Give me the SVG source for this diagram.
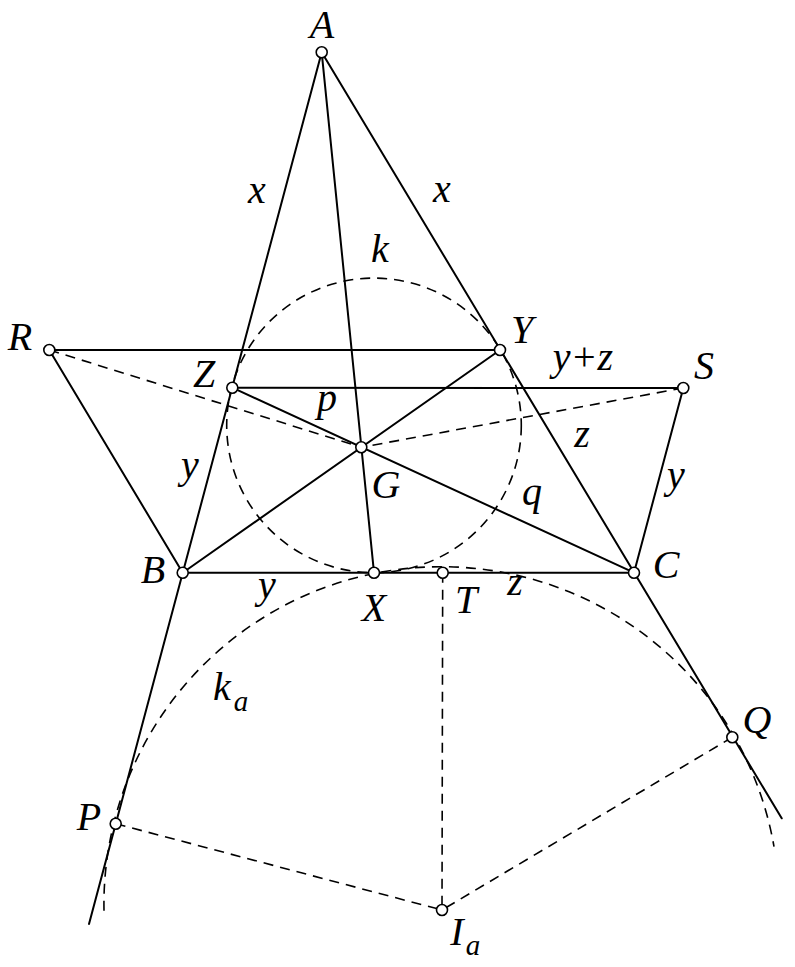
<svg xmlns="http://www.w3.org/2000/svg" width="795" height="967" viewBox="0 0 795 967">
<style>
.s{stroke:#000;stroke-width:2;fill:none;stroke-linecap:round}
.d{stroke:#000;stroke-width:1.6;fill:none;stroke-dasharray:10 7}
.pt{fill:#fff;stroke:#000;stroke-width:1.6}
</style>
<rect width="795" height="967" fill="#fff"/>
<g id="connectors">
<circle id="k" class="d" cx="374" cy="425.4" r="147.3"/>
<path id="ka" class="d" d="M104,910.7 A337.5,337.5 0 0 1 774,846.7"/>
<line class="d" x1="49.3" y1="350" x2="361.3" y2="447.3"/>
<line class="d" x1="683.3" y1="388" x2="361.3" y2="447.3"/>
<line class="d" x1="442.7" y1="572.7" x2="442" y2="910"/>
<line class="d" x1="115.7" y1="823.7" x2="442" y2="910"/>
<line class="d" x1="732.3" y1="737.3" x2="442" y2="910"/>
<line class="s" x1="321.7" y1="52.3" x2="89" y2="924"/>
<line class="s" x1="321.7" y1="52.3" x2="781.7" y2="818.3"/>
<line class="s" x1="321.7" y1="52.3" x2="374" y2="572.7"/>
<line class="s" x1="182.7" y1="572.7" x2="634" y2="572.7"/>
<line class="s" x1="49.3" y1="350" x2="500" y2="350"/>
<line class="s" x1="232.3" y1="387.7" x2="683.3" y2="388"/>
<line class="s" x1="49.3" y1="350" x2="182.7" y2="572.7"/>
<line class="s" x1="683.3" y1="388" x2="634" y2="572.7"/>
<line class="s" x1="182.7" y1="572.7" x2="500" y2="350"/>
<line class="s" x1="232.3" y1="387.7" x2="634" y2="572.7"/>
</g>
<g font-family="'Liberation Serif', serif" font-style="italic" font-size="40" fill="#000" text-anchor="middle">
<g id="A"><circle class="pt" cx="321.7" cy="52.3" r="5.5"/><text x="322" y="38">A</text></g>
<g id="R"><circle class="pt" cx="49.3" cy="350" r="5.5"/><text x="20" y="350">R</text></g>
<g id="Y"><circle class="pt" cx="500" cy="350" r="5.5"/><text x="522" y="343">Y</text></g>
<g id="Z"><circle class="pt" cx="232.3" cy="387.7" r="5.5"/><text x="204" y="387">Z</text></g>
<g id="S"><circle class="pt" cx="683.3" cy="388" r="5.5"/><text x="704" y="379">S</text></g>
<g id="G"><circle class="pt" cx="361.3" cy="447.3" r="5.5"/><text x="386" y="498">G</text></g>
<g id="B"><circle class="pt" cx="182.7" cy="572.7" r="5.5"/><text x="153" y="583">B</text></g>
<g id="X"><circle class="pt" cx="374" cy="572.7" r="5.5"/><text x="374" y="621">X</text></g>
<g id="T"><circle class="pt" cx="442.7" cy="572.7" r="5.5"/><text x="466" y="613">T</text></g>
<g id="C"><circle class="pt" cx="634" cy="572.7" r="5.5"/><text x="666" y="578">C</text></g>
<g id="P"><circle class="pt" cx="115.7" cy="823.7" r="5.5"/><text x="89" y="830">P</text></g>
<g id="Q"><circle class="pt" cx="732.3" cy="737.3" r="5.5"/><text x="757" y="733">Q</text></g>
<g id="Ia"><circle class="pt" cx="442" cy="910" r="5.5"/><text x="457" y="945">I</text><text font-size="29" x="473" y="955">a</text></g>
<g id="labels">
<text x="257" y="203">x</text>
<text x="442" y="202">x</text>
<text x="380" y="262">k</text>
<text x="583" y="370">y+z</text>
<text x="327" y="411">p</text>
<text x="582" y="447">z</text>
<text x="190" y="478">y</text>
<text x="532" y="505">q</text>
<text x="676" y="488">y</text>
<text x="267" y="598">y</text>
<text x="515" y="595">z</text>
<text x="222" y="700">k</text><text font-size="29" x="241" y="711">a</text>
</g>
</g>
</svg>
